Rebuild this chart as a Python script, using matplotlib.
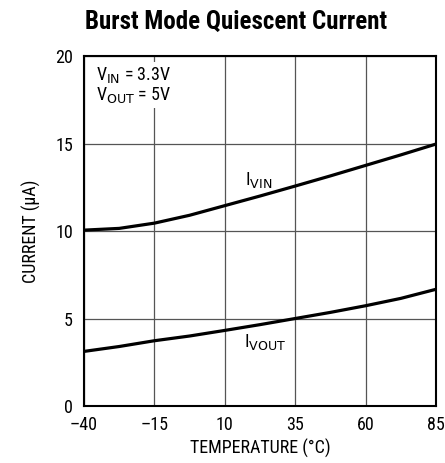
import numpy as np
import matplotlib
matplotlib.use("Agg")
import matplotlib.pyplot as plt

# values
temp = [-40, -27.5, -15, -2.5, 10, 22.5, 35, 47.5, 60, 72.5, 85]
i_vin = [10.05, 10.15, 10.45, 10.9, 11.45, 12.0, 12.57, 13.15, 13.75, 14.35, 14.97]
i_vout = [3.12, 3.4, 3.73, 4.0, 4.32, 4.65, 5.0, 5.35, 5.73, 6.15, 6.67]

x_ticks = [-40, -15, 10, 35, 60, 85]
y_ticks = [0, 5, 10, 15, 20]

font = ['Liberation Sans Narrow', 'Roboto Condensed', 'DejaVu Sans']
plt.rcParams['font.family'] = font
plt.rcParams['mathtext.fontset'] = 'custom'
plt.rcParams['mathtext.rm'] = font[0]
plt.rcParams['mathtext.it'] = font[0]

fig = plt.figure(figsize=(4.45, 4.63), dpi=100)
ax = fig.add_axes([0.1888, 0.1231, 0.791, 0.7559])

ax.plot(temp, i_vin, color='black', lw=2.3, solid_capstyle='butt', zorder=3)
ax.plot(temp, i_vout, color='black', lw=2.3, solid_capstyle='butt', zorder=3)

ax.set_xlim(-40, 85)
ax.set_ylim(0, 20)
ax.set_xticks(x_ticks)
ax.set_yticks(y_ticks)
ax.set_xticklabels(['\u201340' if v == -40 else ('\u201315' if v == -15 else str(v)) for v in x_ticks])
ax.tick_params(length=0, labelsize=13)
ax.tick_params(axis='x', pad=7)
ax.tick_params(axis='y', pad=8)
ax.grid(True, color='#555555', lw=0.9)
ax.set_axisbelow(True)
for s in ax.spines.values():
    s.set_linewidth(1.5)
    s.set_color('black')

ax.set_xlabel('TEMPERATURE (\u00b0C)', fontsize=13, labelpad=4)
ax.set_ylabel('CURRENT (\u03bcA)', fontsize=13, labelpad=10)

ax.text(-35.6, 18.35, 'V$_{\\mathrm{IN}}$ = 3.3V\nV$_{\\mathrm{OUT}}$ = 5V', fontsize=13,
        ha='left', va='center', linespacing=1.0, zorder=4,
        bbox=dict(facecolor='white', edgecolor='none', pad=2))
ax.text(17.0, 12.9, 'I$_{\\mathrm{VIN}}$', fontsize=13, ha='left', va='center')
ax.text(16.8, 3.66, 'I$_{\\mathrm{VOUT}}$', fontsize=13, ha='left', va='center')

fig.text(0.19, 0.952, 'Burst Mode Quiescent Current', fontsize=18, fontweight='bold',
         ha='left', va='center')

fig.savefig('out.png', dpi=100)
